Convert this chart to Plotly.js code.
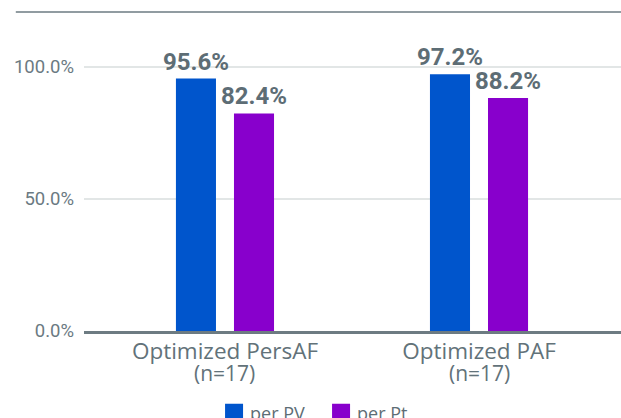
<!DOCTYPE html>
<html>
<head>
<meta charset="utf-8">
<script src="https://cdn.plot.ly/plotly-3.0.1.min.js"></script>
<style>html,body{margin:0;padding:0;background:#fff;}#chart{width:621px;height:418px;}</style>
</head>
<body>
<div id="chart"></div>
<script>
const categories = ["Optimized PersAF", "Optimized PAF"];
const sampleSizes = ["(n=17)", "(n=17)"];
const seriesNames = ["per PV", "per Pt"];
const perPV = [95.6, 97.2];
const perPt = [82.4, 88.2];
const yTickVals = [0, 50, 100];
const yTickText = ["0.0%", "50.0%", "100.0%"];

const xIdx = categories.map((c, i) => i);
const textGray = '#5d6d75';
const narrow = 'Roboto, "DejaVu Sans Condensed", sans-serif';
const sans = '"Open Sans", "Noto Sans", sans-serif';

const mk = (name, vals, color) => ({
  type: 'bar', name: name, x: xIdx, y: vals,
  marker: {color: color},
  text: vals.map(v => v.toFixed(1) + '%'),
  textposition: 'outside', constraintext: 'none', cliponaxis: false,
  textfont: {family: narrow, size: 24, color: textGray, weight: 'bold'},
  hoverinfo: 'skip'
});

const data = [mk(seriesNames[0], perPV, '#0055cc'), mk(seriesNames[1], perPt, '#8800cc')];

const layout = {
  width: 621, height: 418,
  margin: {l: 84, r: 0, t: 12, b: 87, autoexpand: false},
  paper_bgcolor: '#fff', plot_bgcolor: '#fff',
  barmode: 'group', bargap: 0.543, bargroupgap: 0.31,
  showlegend: true,
  legend: {orientation: 'h', x: 0.434, xanchor: 'center', y: -0.199, yanchor: 'top',
    entrywidth: 62,
    font: {family: sans, size: 18, color: textGray}, traceorder: 'normal'},
  xaxis: {
    type: 'linear', range: [-0.555, 1.559], tickvals: xIdx, ticktext: categories,
    tickfont: {family: sans, size: 22.5, color: '#627279'},
    showgrid: false, zeroline: false, showline: true, linecolor: '#6d7b82', linewidth: 2.5,
    ticks: '', ticklabelstandoff: -2, automargin: false, fixedrange: true
  },
  yaxis: {
    range: [0, 120.8], tickvals: yTickVals, ticktext: yTickText,
    tickfont: {family: narrow, size: 18.5, color: '#6b7a82'},
    showgrid: true, gridcolor: '#e2e6e6', gridwidth: 1.5, zeroline: false,
    showline: false, ticks: '', ticklabelstandoff: 9, automargin: false, fixedrange: true
  },
  shapes: [{type: 'line', xref: 'paper', yref: 'paper', x0: -0.127, x1: 1, y0: 1, y1: 1,
    line: {color: '#6d7b82', width: 1.5}}],
  annotations: sampleSizes.map((s, i) => ({
    text: s, x: xIdx[i], xref: 'x', y: -0.083, yref: 'paper', yanchor: 'top',
    showarrow: false, font: {family: sans, size: 21, color: '#627279'}
  }))
};

Plotly.newPlot('chart', data, layout, {staticPlot: true, displayModeBar: false}).then(() => {
  document.querySelectorAll('.legendpoints path').forEach(p => {
    const t = p.getAttribute('transform') || '';
    p.setAttribute('transform', t + ' translate(4,0) scale(1.5)');
  });
});
</script>
</body>
</html>
